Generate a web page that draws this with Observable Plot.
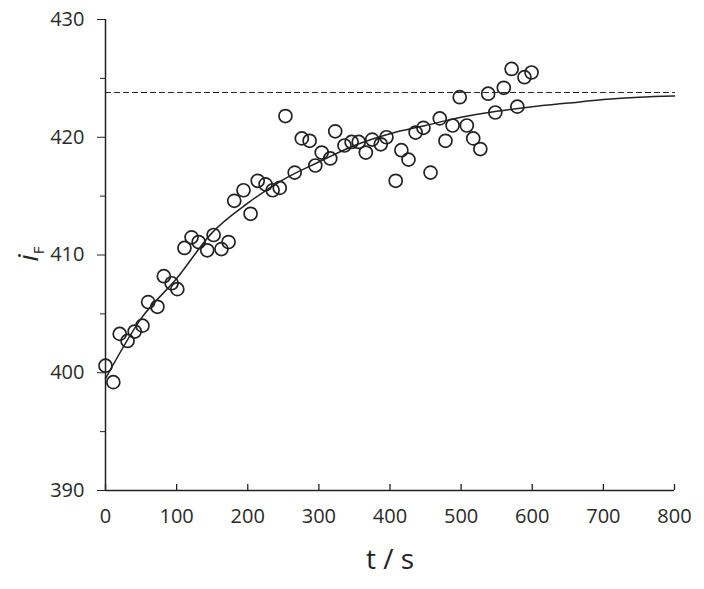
<!DOCTYPE html>
<html>
<head>
<meta charset="utf-8">
<script src="https://cdn.jsdelivr.net/npm/d3@7"></script>
<script src="https://cdn.jsdelivr.net/npm/@observablehq/plot@0.6"></script>
<style>
  html, body { margin: 0; padding: 0; background: #fff; }
  #chart svg { display: block; }
</style>
</head>
<body>
<div id="chart"></div>
<script>
// Measured points: time (s) and fluorescence intensity iF
const times = [0, 11, 20, 31, 41, 52, 60, 73, 82, 93, 101, 111, 121, 131, 143, 152, 163, 173, 181, 194,
  204, 214, 225, 235, 245, 253, 266, 276, 287, 295, 304, 316, 323, 336, 346, 356, 366, 375, 387, 395,
  408, 416, 426, 436, 447, 457, 470, 478, 488, 498, 508, 517, 527, 538, 548, 560, 571, 579, 589, 599];
const intensities = [400.6, 399.2, 403.3, 402.7, 403.5, 404.0, 406.0, 405.6, 408.2, 407.6, 407.1, 410.6, 411.5, 411.1, 410.4, 411.7, 410.5, 411.1, 414.6, 415.5,
  413.5, 416.3, 416.0, 415.5, 415.7, 421.8, 417.0, 419.9, 419.7, 417.6, 418.7, 418.2, 420.5, 419.3, 419.6, 419.6, 418.7, 419.8, 419.4, 420.0,
  416.3, 418.9, 418.1, 420.4, 420.8, 417.0, 421.6, 419.7, 421.0, 423.4, 421.0, 419.9, 419.0, 423.7, 422.1, 424.2, 425.8, 422.6, 425.1, 425.5];

// Fitted curve
const fitTimes = [0, 50, 100, 150, 200, 250, 300, 350, 400, 450, 500, 550, 600, 650, 700, 750, 800];
const fitValues = [399.5, 404.6, 408.0, 411.9, 414.4, 416.4, 417.9, 419.3, 420.3, 421.0, 421.7, 422.2, 422.6, 422.9, 423.2, 423.4, 423.5];

// Asymptote (dashed)
const plateau = 423.8;
const plateauRange = [0, 800];

// Axis ticks
const xTicks = [0, 100, 200, 300, 400, 500, 600, 700, 800];
const yTicks = [390, 400, 410, 420, 430];
const yMinorTicks = [395, 405, 415, 425];

const points = times.map((t, i) => ({t, v: intensities[i]}));
const fit = fitTimes.map((t, i) => ({t, v: fitValues[i]}));
const dash = plateauRange.map(t => ({t, v: plateau}));

const ink = "#222";
const font = "'Open Sans', 'DejaVu Sans', sans-serif";

const chart = Plot.plot({
  width: 704,
  height: 589,
  marginLeft: 105,
  marginRight: 30,
  marginTop: 19,
  marginBottom: 99,
  style: {fontFamily: font, color: "#333", background: "#fff"},
  x: {domain: [0, 800]},
  y: {domain: [390, 430]},
  marks: [
    Plot.axisY({ticks: yTicks, tickSize: 8, tickPadding: 13, fontSize: 20, label: null, stroke: ink, fill: "#2a2a2a"}),
    Plot.axisY({ticks: yMinorTicks, tickSize: 5, tickFormat: () => "", label: null, stroke: ink}),
    Plot.axisX({ticks: xTicks, tickSize: 0, tickPadding: 18, fontSize: 20, label: null, fill: "#2a2a2a"}),
    Plot.tickX(xTicks, {x: d => d, insetTop: 465, stroke: ink, strokeWidth: 1.3}),
    Plot.ruleX([0], {stroke: ink, strokeWidth: 1.5}),
    Plot.ruleY([390], {stroke: ink, strokeWidth: 1.5}),
    Plot.line(dash, {x: "t", y: "v", stroke: ink, strokeWidth: 1.1, strokeDasharray: "5,4"}),
    Plot.line(fit, {x: "t", y: "v", curve: "monotone-x", stroke: ink, strokeWidth: 1.5}),
    Plot.dot(points, {x: "t", y: "v", r: 6.5, stroke: ink, strokeWidth: 1.7, fill: "none"}),
    Plot.text(["t / s"], {frameAnchor: "bottom", dy: 78, fontSize: 28, fill: "#222", fontFamily: font})
  ]
});

document.getElementById("chart").appendChild(chart);

// y-axis label: italic i with subscript F
const svg = d3.select(chart);
const lab = svg.append("text")
  .attr("transform", "translate(38,254) rotate(-90)")
  .attr("text-anchor", "middle")
  .attr("font-family", font)
  .attr("font-size", 28)
  .attr("fill", "#222");
lab.append("tspan").attr("font-style", "italic").text("i");
lab.append("tspan").attr("font-size", 15).attr("dy", 6).text("F");
</script>
</body>
</html>
